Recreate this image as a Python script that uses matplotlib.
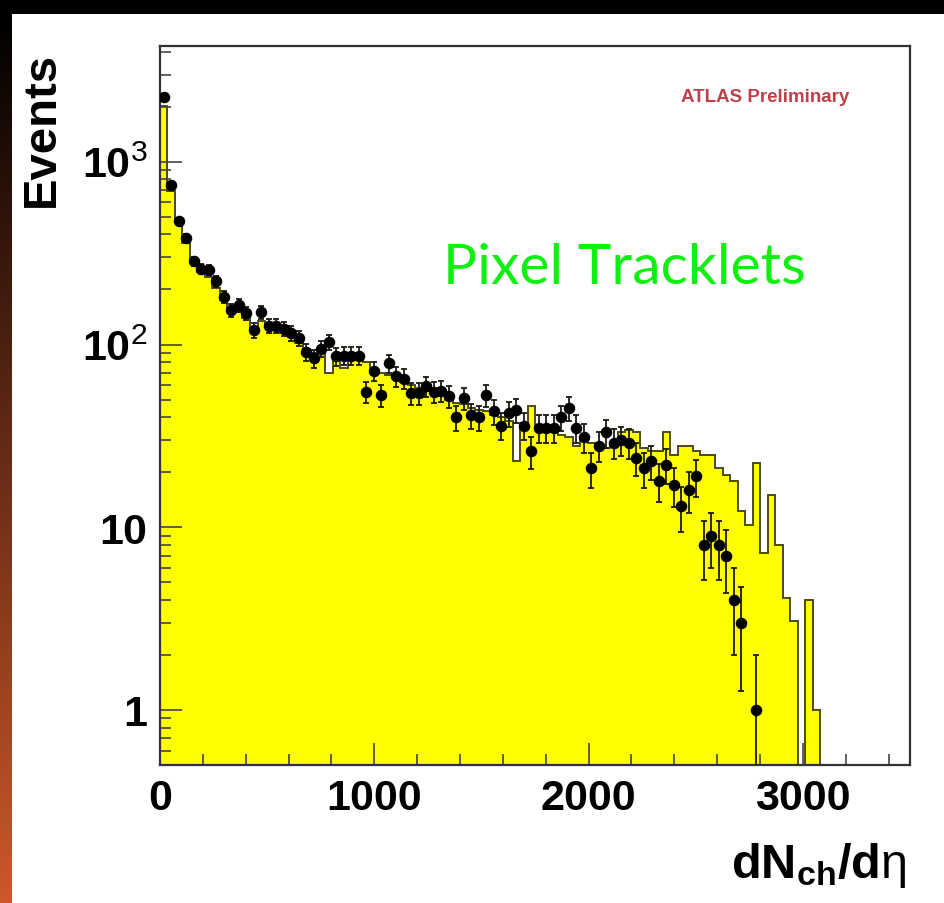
import numpy as np
import matplotlib
matplotlib.use("Agg")
import matplotlib.pyplot as plt
from matplotlib.ticker import FixedLocator, MultipleLocator, LogLocator, NullFormatter

plt.rcParams['font.family'] = ['Liberation Sans', 'DejaVu Sans']
plt.rcParams['mathtext.fontset'] = 'custom'
plt.rcParams['mathtext.rm'] = 'Liberation Sans'
plt.rcParams['mathtext.bf'] = 'Liberation Sans:bold'
plt.rcParams['mathtext.it'] = 'Liberation Sans:italic'

# ---------------- data ----------------
bin_width = 35.0
n_bins = 100

# Monte Carlo expectation (yellow histogram), bins 0..87, zero afterwards
mc_counts = [2020, 690, 470, 360, 290, 250, 235, 205, 175, 155,
             150, 140, 118, 135, 125, 120, 115, 110, 102, 95,
             90, 92, 70, 88, 74, 85, 82, 80, 72, 70,
             68, 65, 62, 60, 58, 56, 54, 52, 50, 48,
             47, 45, 44, 43, 41, 40, 38, 23, 37, 46,
             35, 34, 33, 32, 31, 28, 30, 29, 28, 27,
             28, 33, 34, 33, 27, 26, 26, 33, 25, 28,
             28, 26, 25, 25, 21, 19.3, 17.8, 12.2, 10.3, 22.4,
             7.2, 15, 8, 4.1, 3.06, 0, 4, 1]

# Measured data (black points), bins 0..79
data_counts = [2258, 742, 472, 383, 285, 260, 255, 222, 182, 154,
               164, 148, 120, 150, 127, 127, 122, 115, 108, 91,
               84, 95, 103, 86, 87, 87, 87, 55, 72, 53,
               79, 67, 65, 54, 54, 59, 55, 56, 52, 40,
               51, 41, 40, 53, 43, 36, 42, 44, 36, 26,
               35, 35, 35, 40, 45, 35, 31, 21, 28, 33,
               29, 30, 29, 24, 21, 23, 18, 22, 17, 13,
               16, 19, 8, 9, 8, 7, 4, 3, 0, 1]

x_ticks = [0, 1000, 2000, 3000]
y_ticks = [1, 10, 100, 1000]
y_tick_labels = ['1', '10', r'$\mathbf{10}^{2}$', r'$\mathbf{10}^{3}$']

# ---------------- figure ----------------
W, H = 945, 904
fig = plt.figure(figsize=(W / 100, H / 100), dpi=100, facecolor='white')

# decorative slide border: black top band, gradient strip at left
top_ax = fig.add_axes([0, 1 - 15 / H, 1, 15 / H])
top_ax.set_axis_off()
top_ax.add_patch(plt.Rectangle((0, 0), 1, 1, transform=top_ax.transAxes, color='black'))

left_ax = fig.add_axes([0, 0, 12 / W, 1 - 15 / H])
left_ax.set_axis_off()
g = np.linspace(0, 1, 256)[:, None]
c_top = np.array([0, 0, 0])
c_bot = np.array([205, 88, 42]) / 255
grad = (c_top[None, :] * (1 - g) + c_bot[None, :] * g)
left_ax.imshow(grad[:, None, :].repeat(4, axis=1), aspect='auto', origin='upper')

ax = fig.add_axes([160 / W, 1 - 766 / H, 750 / W, (766 - 47) / H])
ax.set_facecolor('white')

edges = np.arange(n_bins + 1) * bin_width
mc = np.zeros(n_bins)
mc[:len(mc_counts)] = mc_counts
mc_draw = np.where(mc > 0, mc, 1e-3)

ax.stairs(mc_draw, edges, fill=True, color='#ffff00', baseline=1e-3, zorder=1)
ax.stairs(mc_draw, edges, fill=False, color='#4a4a1a', linewidth=1.4, baseline=1e-3, zorder=2)

d = np.array(data_counts, dtype=float)
centers = (edges[:-1] + edges[1:])[:len(d)] / 2
mask = d > 0
ax.errorbar(centers[mask], d[mask], yerr=np.sqrt(d[mask]), fmt='o', color='black',
            ecolor='#1a1a10', elinewidth=1.3, capsize=2.5, capthick=1.3,
            markersize=7.3, zorder=3)

ax.set_yscale('log')
ax.set_xlim(0, 3500)
ax.set_ylim(0.5, 4300)

ax.xaxis.set_major_locator(FixedLocator(x_ticks))
ax.xaxis.set_minor_locator(MultipleLocator(200))
ax.set_xticklabels([str(t) for t in x_ticks])
ax.yaxis.set_major_locator(FixedLocator(y_ticks))
ax.yaxis.set_minor_locator(LogLocator(base=10, subs=np.arange(2, 10)))
ax.yaxis.set_minor_formatter(NullFormatter())
ax.set_yticklabels(y_tick_labels)

ax.tick_params(axis='both', which='major', direction='in', length=16, width=1.2,
               color='#444444', labelsize=31, pad=9)
ax.tick_params(axis='both', which='minor', direction='in', length=8, width=1.2,
               color='#444444')
ax.tick_params(top=False, right=False, which='both')
for lab in ax.get_xticklabels() + ax.get_yticklabels():
    lab.set_fontweight('bold')

for s in ax.spines.values():
    s.set_color('#333333')
    s.set_linewidth(1.6)

fig.text(42 / W, 1 - 52 / H, 'Events', rotation=90, ha='center', va='top',
         fontsize=34, fontweight='bold')
fig.text(906 / W, 1 - 866 / H, r'$\mathbf{dN_{ch}/d}\mathrm{\eta}$', ha='right', va='center',
         fontsize=35)

ax.text(0.807, 0.930, 'ATLAS Preliminary', transform=ax.transAxes, ha='center', va='center',
        fontsize=13.5, fontweight='bold', color='#c0404a')
fig.text(624 / W, 1 - 269 / H, 'Pixel Tracklets', ha='center', va='center',
         fontsize=41, color='#10f010', family=['Lato', 'DejaVu Sans'])

fig.savefig('out.png', dpi=100, facecolor='white')
